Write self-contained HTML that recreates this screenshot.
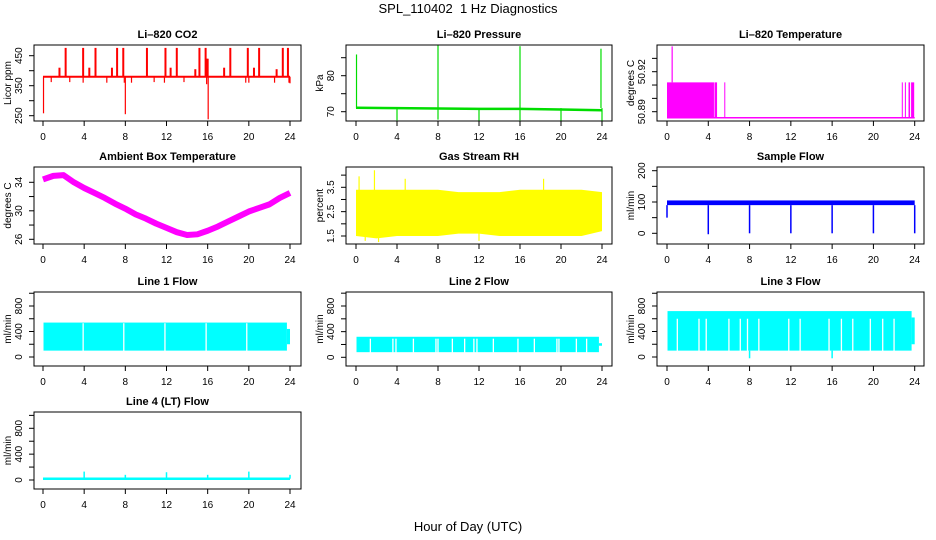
<!DOCTYPE html>
<html><head><meta charset="utf-8"><style>
html,body{margin:0;padding:0;background:#fff;}
svg{display:block;font-family:"Liberation Sans",Arial,sans-serif;}
</style></head><body>
<svg id="chart" width="936" height="540" viewBox="0 0 936 540" xmlns="http://www.w3.org/2000/svg">
<text x="468" y="13" font-size="13" text-anchor="middle" style="white-space:pre">SPL_110402  1 Hz Diagnostics</text>
<text x="468" y="531" font-size="13" text-anchor="middle">Hour of Day (UTC)</text>
</svg>
<script>
// ---- data arrays ----
const xTicks = [0,4,8,12,16,20,24];
// CO2
const co2Base = 380;
const co2SpikeHours = [2.2,3.9,5.1,7.2,7.8,10.1,11.9,13.0,15.2,15.8,18.2,19.9,21.0,23.3,23.8,1.6,4.5,6.7,12.4,14.8,17.6,20.5,22.7,15.9,16.0];
const co2SpikeValues = [476,476,476,476,476,476,476,476,476,476,476,476,476,476,476,410,410,410,410,405,410,410,405,440,440];
const co2DipHours = [0.05,8.0,16.05,0.8,3.9,6.2,7.9,8.6,10.8,11.8,15.9,19.7,20.0,22.5,23.9,24.0,2.6,13.7];
const co2DipValues = [258,255,238,362,360,360,360,360,362,360,355,360,360,360,360,358,362,362];
// Pressure
const presHours = [0,4,8,12,16,20,24];
const presBase = [71.1,71.0,70.9,70.8,70.8,70.6,70.4];
const presSpikeHours = [0.05,8.0,16.0,23.9];
const presSpikeValues = [85.9,88.5,88.2,87.5];
const presDipHours = [4,8,12,16,20,24];
const presDipValues = [67.6,67.8,67.4,67.6,67.4,67.4];
// Li-820 temperature
const tempBase = 50.8855;
const tempFillStart = [0.0,4.6,5.55,22.75,23.05,23.4,23.65];
const tempFillEnd =   [4.55,4.85,5.6,22.8,23.1,23.55,23.95];
const tempFillTop = 50.912;
const tempSpikeHours = [0.5];
const tempSpikeValues = [50.939];
// Ambient box temperature
const ambHours = [0,1,2,3,4,5,6,7,8,9,10,11,12,13,14,15,16,17,18,19,20,21,22,23,24];
const ambValues = [34.4,34.9,35.0,34.0,33.2,32.5,31.8,31.0,30.3,29.5,28.9,28.2,27.6,27.0,26.6,26.7,27.2,27.8,28.5,29.2,29.9,30.4,30.9,31.8,32.5];
// Gas stream RH
const rhHours = [0,2,4,6,8,10,12,14,16,18,20,22,24];
const rhUpper = [3.4,3.4,3.4,3.4,3.4,3.3,3.3,3.3,3.4,3.4,3.4,3.4,3.3];
const rhLower = [1.5,1.4,1.5,1.5,1.5,1.6,1.6,1.5,1.5,1.5,1.5,1.5,1.7];
const rhSpikeHours = [0.3,1.8,4.8,18.3,2.2,12.0,0.9];
const rhSpikeValues = [3.95,4.2,3.85,3.85,1.25,1.3,1.3];
// Sample flow
const sfBandLow = 90, sfBandHigh = 105;
const sfDipHours = [4,8,12,16,20,24];
const sfDipValues = [-3,0,0,0,0,0];
// Line flows
const l1Low = 100, l1High = 540;
const l1Gaps = [3.9,7.85,11.85,15.85,19.8];
const l2Low = 80, l2High = 320;
const l2Gaps = [1.4,3.6,3.9,5.6,7.8,8.0,9.4,10.6,11.5,11.8,13.4,15.8,17.4,19.6,19.8,21.5,22.5];
const l3Low = 100, l3High = 720;
const l3Gaps = [1.0,3.1,3.8,6.0,7.1,7.8,8.9,11.8,12.9,15.7,16.9,18.0,19.7,20.9,22.0];
const l3DipHours = [8.0,16.0];
const l3DipValues = [-20,-20];
const l4Base = 20;
const l4SpikeHours = [4,8,12,16,20,24];
const l4SpikeValues = [130,80,120,80,130,80];

// ---- helpers ----
const svg = document.getElementById('chart');
const NS = 'http://www.w3.org/2000/svg';
function mk(tag, attrs, parent){
  const e = document.createElementNS(NS, tag);
  for (const k in attrs) e.setAttribute(k, attrs[k]);
  (parent||svg).appendChild(e);
  return e;
}
function panel(cfg){
  const g = mk('g', {});
  
  
  const sx = h => cfg.px0 + (cfg.px24 - cfg.px0) * h / 24;
  const sy = v => cfg.yp1 + (v - cfg.yv1) * (cfg.yp2 - cfg.yp1) / (cfg.yv2 - cfg.yv1);
  const clip = 'clip-' + cfg.name;
  const cp = mk('clipPath', {id: clip}, g);
  mk('rect', {x: cfg.bx0, y: cfg.by0, width: cfg.bx1 - cfg.bx0, height: cfg.by1 - cfg.by0}, cp);
  const data = mk('g', {'clip-path': 'url(#' + clip + ')'}, g);
  
  
  cfg.draw(data, sx, sy);
  const box = mk('rect', {x: cfg.bx0, y: cfg.by0, width: cfg.bx1 - cfg.bx0, height: cfg.by1 - cfg.by0, fill: 'none', stroke: '#000', 'stroke-width': 1}, g);
  
  
  const t = mk('text', {x: (cfg.bx0 + cfg.bx1) / 2, y: cfg.by0 - 7, 'font-size': 11, 'font-weight': 'bold', 'text-anchor': 'middle'}, g);
  t.textContent = cfg.title;
  
  
  const xa = mk('g', {}, g);
  
  
  mk('line', {x1: sx(xTicks[0]), x2: sx(xTicks[xTicks.length - 1]), y1: cfg.by1, y2: cfg.by1, stroke: '#000'}, xa);
  xTicks.forEach(h => {
    mk('line', {x1: sx(h), x2: sx(h), y1: cfg.by1, y2: cfg.by1 + 5, stroke: '#000'}, xa);
    const tl = mk('text', {x: sx(h), y: cfg.by1 + 19, 'font-size': 10, 'text-anchor': 'middle'}, xa);
    tl.textContent = h;
  });
  const ya = mk('g', {}, g);
  
  
  const yt = cfg.yTicks;
  mk('line', {x1: cfg.bx0, x2: cfg.bx0, y1: sy(yt[0]), y2: sy(yt[yt.length - 1]), stroke: '#000'}, ya);
  yt.forEach(v => mk('line', {x1: cfg.bx0 - 5, x2: cfg.bx0, y1: sy(v), y2: sy(v), stroke: '#000'}, ya));
  cfg.yLabels.forEach(lab => {
    const y = sy(lab.v), x = cfg.bx0 - 12;
    const tl = mk('text', {x: x, y: y, 'font-size': 10, 'text-anchor': 'middle', transform: 'rotate(-90 ' + x + ' ' + y + ')'}, ya);
    tl.textContent = lab.t;
  });
  const ty = (cfg.by0 + cfg.by1) / 2, tx = cfg.bx0 - 23;
  const yTitle = mk('text', {x: tx, y: ty, 'font-size': 10, 'text-anchor': 'middle', transform: 'rotate(-90 ' + tx + ' ' + ty + ')'}, ya);
  yTitle.textContent = cfg.ylab;
  
  
}
function vline(p, x, y1, y2, col, w){ mk('line', {x1: x, x2: x, y1: y1, y2: y2, stroke: col, 'stroke-width': w || 1}, p); }
function lbls(arr){ return arr.map(v => ({v: v, t: String(v)})); }

const col = [[34,301,43,290],[346,612,356,602],[657,924,667,914.7]];
function geo(c, r){
  const rows = [[45,121],[167,244],[292,366],[412,489]];
  return {bx0: col[c][0], bx1: col[c][1], px0: col[c][2], px24: col[c][3], by0: rows[r][0], by1: rows[r][1]};
}

panel(Object.assign(geo(0,0), {name:'co2-panel', title:'Li\u2013820 CO2', ylab:'Licor ppm',
  yv1:450, yp1:55.7, yv2:250, yp2:115.7, yTicks:[250,300,350,400,450], yLabels:lbls([250,350,450]),
  draw:(p, sx, sy) => {
    const red = '#ff0000';
    mk('line', {x1: sx(0), x2: sx(24), y1: sy(co2Base), y2: sy(co2Base), stroke: red, 'stroke-width': 2}, p);
    co2SpikeHours.forEach((h, i) => vline(p, sx(h), sy(co2Base), sy(co2SpikeValues[i]), red, 2));
    co2DipHours.forEach((h, i) => vline(p, sx(h), sy(co2Base), sy(co2DipValues[i]), red, 1.2));
  }}));
panel(Object.assign(geo(1,0), {name:'pressure-panel', title:'Li\u2013820 Pressure', ylab:'kPa',
  yv1:80, yp1:75.7, yv2:70, yp2:111.7, yTicks:[70,75,80,85], yLabels:lbls([70,80]),
  draw:(p, sx, sy) => {
    const g = '#00dd00';
    mk('polyline', {points: presHours.map((h, i) => sx(h) + ',' + sy(presBase[i])).join(' '), fill: 'none', stroke: g, 'stroke-width': 2.5}, p);
    presSpikeHours.forEach((h, i) => vline(p, sx(h), sy(71), sy(presSpikeValues[i]), g, 1.2));
    presDipHours.forEach((h, i) => vline(p, sx(h), sy(71), sy(presDipValues[i]), g, 1.2));
  }}));
panel(Object.assign(geo(2,0), {name:'li820-temperature-panel', title:'Li\u2013820 Temperature', ylab:'degrees C',
  yv1:50.92, yp1:71.7, yv2:50.89, yp2:111.7, yTicks:[50.89,50.90,50.91,50.92,50.93], yLabels:lbls([50.89,50.92]),
  draw:(p, sx, sy) => {
    const m = '#ff00ff';
    mk('line', {x1: sx(0), x2: sx(24), y1: sy(tempBase), y2: sy(tempBase), stroke: m, 'stroke-width': 1.5}, p);
    tempFillStart.forEach((s, i) => {
      const x1 = sx(s), x2 = Math.max(sx(tempFillEnd[i]), x1 + 1);
      mk('rect', {x: x1, y: sy(tempFillTop), width: x2 - x1, height: sy(tempBase) - sy(tempFillTop), fill: m}, p);
    });
    tempSpikeHours.forEach((h, i) => vline(p, sx(h), sy(tempFillTop), sy(tempSpikeValues[i]), m, 1.2));
  }}));
panel(Object.assign(geo(0,1), {name:'ambient-temperature-panel', title:'Ambient Box Temperature', ylab:'degrees C',
  yv1:34, yp1:182.3, yv2:26, yp2:239.3, yTicks:[26,28,30,32,34], yLabels:lbls([26,30,34]),
  draw:(p, sx, sy) => {
    mk('polyline', {points: ambHours.map((h, i) => sx(h) + ',' + sy(ambValues[i])).join(' '), fill: 'none', stroke: '#ff00ff', 'stroke-width': 6, 'stroke-linejoin': 'round'}, p);
  }}));
panel(Object.assign(geo(1,1), {name:'rh-panel', title:'Gas Stream RH', ylab:'percent',
  yv1:3.5, yp1:187.3, yv2:1.5, yp2:236, yTicks:[1.5,2,2.5,3,3.5,4], yLabels:lbls([1.5,2.5,3.5]),
  draw:(p, sx, sy) => {
    const y = '#ffff00';
    const pts = rhHours.map((h, i) => sx(h) + ',' + sy(rhUpper[i])).concat(rhHours.slice().reverse().map((h, j) => sx(h) + ',' + sy(rhLower[rhHours.length - 1 - j])));
    mk('polygon', {points: pts.join(' '), fill: y}, p);
    rhSpikeHours.forEach((h, i) => vline(p, sx(h), sy(2.8), sy(rhSpikeValues[i]), y, 1.2));
  }}));
panel(Object.assign(geo(2,1), {name:'sample-flow-panel', title:'Sample Flow', ylab:'ml/min',
  yv1:200, yp1:170.7, yv2:0, yp2:233.3, yTicks:[0,50,100,150,200], yLabels:lbls([0,100,200]),
  draw:(p, sx, sy) => {
    const b = '#0000ff';
    mk('rect', {x: sx(0), y: sy(sfBandHigh), width: sx(24) - sx(0), height: sy(sfBandLow) - sy(sfBandHigh), fill: b}, p);
    vline(p, sx(0), sy(sfBandLow), sy(50), b, 1.5);
    sfDipHours.forEach((h, i) => vline(p, sx(h), sy(sfBandLow), sy(sfDipValues[i]), b, 1.5));
  }}));
function flowPanel(c, r, name, title, y0, y800, low, high, gaps, gapTop, dipH, dipV){
  panel(Object.assign(geo(c, r), {name: name, title: title, ylab: 'ml/min',
    yv1: 0, yp1: y0, yv2: 800, yp2: y800, yTicks: [0,200,400,600,800,1000], yLabels: lbls([0,400,800]),
    draw: (p, sx, sy) => {
      const cy = '#00ffff';
      mk('rect', {x: sx(0.05), y: sy(high), width: sx(23.7) - sx(0.05), height: sy(low) - sy(high), fill: cy}, p);
      mk('rect', {x: sx(23.7), y: sy(high - 100), width: sx(24) - sx(23.7), height: sy(low + 100) - sy(high - 100), fill: cy}, p);
      gaps.forEach(h => vline(p, sx(h), sy(low) + 1, sy(gapTop), '#ffffff', 1.3));
      (dipH || []).forEach((h, i) => vline(p, sx(h), sy(low), sy(dipV[i]), cy, 1.5));
    }}));
}
flowPanel(0, 2, 'line1-flow-panel', 'Line 1 Flow', 357, 306, l1Low, l1High, l1Gaps, l1High - 10);
flowPanel(1, 2, 'line2-flow-panel', 'Line 2 Flow', 357.3, 306, l2Low, l2High, l2Gaps, l2High - 30);
flowPanel(2, 2, 'line3-flow-panel', 'Line 3 Flow', 357, 306, l3Low, l3High, l3Gaps, 600, l3DipHours, l3DipValues);
panel(Object.assign(geo(0,3), {name:'line4-flow-panel', title:'Line 4 (LT) Flow', ylab:'ml/min',
  yv1:0, yp1:480, yv2:800, yp2:428.3, yTicks:[0,200,400,600,800,1000], yLabels:lbls([0,400,800]),
  draw:(p, sx, sy) => {
    const cy = '#00ffff';
    mk('line', {x1: sx(0), x2: sx(24), y1: sy(l4Base), y2: sy(l4Base), stroke: cy, 'stroke-width': 2.5}, p);
    l4SpikeHours.forEach((h, i) => vline(p, sx(h), sy(l4Base), sy(l4SpikeValues[i]), cy, 1.5));
  }}));
</script>
</body></html>
